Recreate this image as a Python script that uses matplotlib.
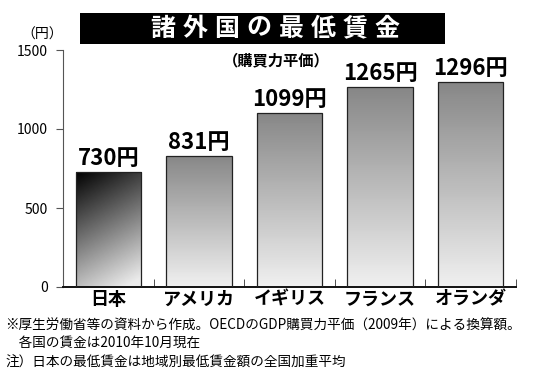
import matplotlib
matplotlib.use("Agg")
import matplotlib.pyplot as plt
import numpy as np
from matplotlib.patches import Rectangle

plt.rcParams["font.family"] = ["Noto Sans CJK JP", "DejaVu Sans"]

countries = ["日本", "アメリカ", "イギリス", "フランス", "オランダ"]
wages = [730, 831, 1099, 1265, 1296]
yticks = [0, 500, 1000, 1500]

title = "諸外国の最低賃金"
subtitle = "（購買力平価）"
notes = [
    "※厚生労働省等の資料から作成。OECDのGDP購買力平価（2009年）による換算額。",
    "　各国の賃金は2010年10月現在",
    "注）日本の最低賃金は地域別最低賃金額の全国加重平均",
]

W, H = 550, 378
fig = plt.figure(figsize=(5.5, 3.78), dpi=100)
ax = fig.add_axes([63 / W, 1 - 287 / H, (516 - 63) / W, (287 - 50) / H])

x = np.arange(len(countries))
bars = ax.bar(x, wages, width=0.72, facecolor="none", edgecolor="#222222",
              linewidth=0.9, zorder=3)

# gradient fills clipped to each bar
ny, nx = 100, 50
yy, xx = np.mgrid[0:1:ny * 1j, 0:1:nx * 1j]
for i, b in enumerate(bars):
    if i == 0:
        g = np.clip(0.0 + 0.95 * (0.78 * yy + 0.25 * xx), 0, 0.92)
    else:
        g = 0.53 + 0.41 * yy
    im = ax.imshow(g, cmap="gray", vmin=0, vmax=1, aspect="auto",
                   extent=(b.get_x(), b.get_x() + b.get_width(), 0, b.get_height()),
                   origin="upper", zorder=2, interpolation="bilinear")
    im.set_clip_path(b)
    ax.text(b.get_x() + b.get_width() / 2, b.get_height() + 12, f"{wages[i]}円",
            ha="center", va="bottom", fontsize=16, fontweight="bold")

ax.set_xlim(-0.5, len(countries) - 0.5)
ax.set_ylim(0, 1500)
ax.set_yticks(yticks)
ax.set_yticklabels([str(v) for v in yticks], fontsize=10)
ax.set_xticks(x)
ax.set_xticklabels(countries, fontsize=13, fontweight="bold")
ax.tick_params(axis="x", length=0, pad=2)
ax.tick_params(axis="y", length=5, color="#555555", pad=6)
ax.set_xticks(list(x[1:] - 0.5) + [len(countries) - 0.5], minor=True)
ax.tick_params(axis="x", which="minor", direction="in", length=6, color="#333333")

for s in ["top", "right"]:
    ax.spines[s].set_visible(False)
ax.spines["left"].set_color("#555555")
ax.spines["bottom"].set_color("#111111")
ax.spines["bottom"].set_linewidth(1.4)

fig.text(42 / W, 1 - 35 / H, "（円）", fontsize=10, ha="center", va="center")

# title banner
fig.add_artist(Rectangle((80 / W, 1 - 44 / H), (445 - 80) / W, 31 / H,
                         transform=fig.transFigure, facecolor="black",
                         edgecolor="none"))
step = 32
x0 = 275 - step * (len(title) - 1) / 2
for k, ch in enumerate(title):
    fig.text((x0 + k * step) / W, 1 - 28.5 / H, ch, fontsize=18, fontweight="bold",
             color="white", ha="center", va="center")
fig.text(276 / W, 1 - 60 / H, subtitle, fontsize=11, fontweight="bold",
         ha="center", va="center")

fig.text(5 / W, 1 - 326 / H, notes[0], fontsize=9.8, ha="left", va="center")
fig.text(5 / W, 1 - 343 / H, notes[1], fontsize=9.8, ha="left", va="center")
fig.text(5 / W, 1 - 363 / H, notes[2], fontsize=9.8, ha="left", va="center")

fig.savefig("out.png", dpi=100)
